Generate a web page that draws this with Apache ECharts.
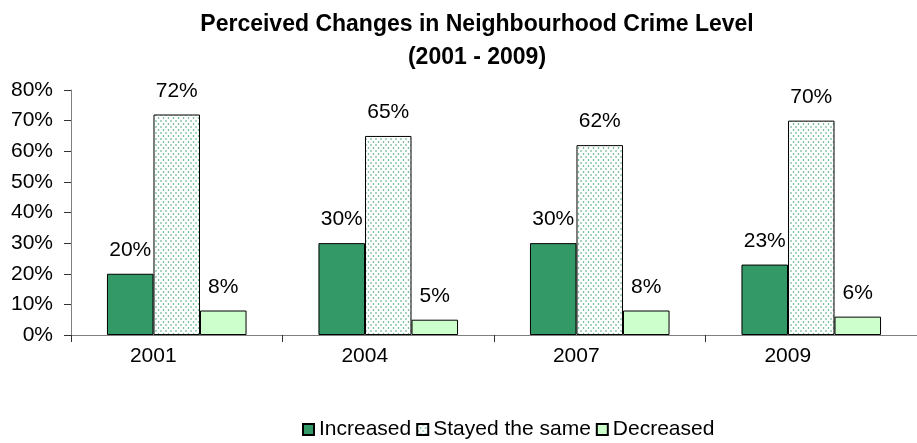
<!DOCTYPE html>
<html>
<head>
<meta charset="utf-8">
<script src="https://cdn.jsdelivr.net/npm/echarts@6/dist/echarts.min.js"></script>
<style>
  html, body { margin: 0; padding: 0; background: #fff; }
  #chart { width: 917px; height: 443px; }
</style>
</head>
<body>
<div id="chart"></div>
<script>
// Survey years and the share of residents in each response group
const years = ['2001', '2004', '2007', '2009'];
const increased = [20, 30, 30, 23];
const stayedSame = [72, 65, 62, 70];
const decreased = [8, 5, 8, 6];
const yTicks = [0, 10, 20, 30, 40, 50, 60, 70, 80];

const FONT = 'Arial, "Liberation Sans", sans-serif';

// Dotted fill used for the "Stayed the same" bars: staggered green dots on white
function dotPattern() {
  const c = document.createElement('canvas');
  c.width = 5; c.height = 6;
  const ctx = c.getContext('2d');
  ctx.fillStyle = '#ffffff';
  ctx.fillRect(0, 0, 5, 6);
  ctx.fillStyle = '#3a9d6a';
  ctx.beginPath();
  ctx.arc(1, 1, 0.8, 0, Math.PI * 2);
  ctx.arc(3.5, 4, 0.8, 0, Math.PI * 2);
  ctx.fill();
  return c;
}

const labelStyle = {
  show: true,
  position: 'top',
  distance: 13,
  fontSize: 21,
  fontFamily: FONT,
  color: '#000',
  formatter: p => p.value + '%'
};

const chart = echarts.init(document.getElementById('chart'), null, { renderer: 'canvas' });
chart.setOption({
  animation: false,
  backgroundColor: '#fff',
  title: {
    text: 'Perceived Changes in Neighbourhood Crime Level\n(2001 - 2009)',
    left: 472,
    textAlign: 'center',
    top: 3,
    textStyle: { fontFamily: FONT, fontSize: 23, fontWeight: 'bold', color: '#000', lineHeight: 33 }
  },
  legend: {
    top: 414,
    left: 297,
    itemWidth: 11,
    itemHeight: 11,
    itemGap: 5,
    icon: 'rect',
    textStyle: { fontFamily: FONT, fontSize: 21, color: '#000' },
    data: ['Increased', 'Stayed the same', 'Decreased']
  },
  // plot area runs a little past the right edge of the canvas
  grid: { left: 71, right: -14, top: 90, bottom: 108 },
  xAxis: {
    type: 'category',
    data: years,
    axisLine: { lineStyle: { color: '#808080', width: 1 } },
    axisTick: { show: true, length: 7, lineStyle: { color: '#333' } },
    axisLabel: { fontFamily: FONT, fontSize: 21, color: '#000', margin: 11, padding: [0, 47, 0, 0] }
  },
  yAxis: {
    type: 'value',
    min: yTicks[0],
    max: yTicks[yTicks.length - 1],
    interval: 10,
    splitLine: { show: false },
    axisLine: { show: true, lineStyle: { color: '#808080', width: 1 } },
    axisTick: { show: true, length: 7, lineStyle: { color: '#333' } },
    axisLabel: { fontFamily: FONT, fontSize: 21, color: '#000', margin: 18, formatter: v => v + '%' }
  },
  series: [
    {
      name: 'Increased',
      type: 'bar',
      data: increased,
      barGap: '0%',
      barCategoryGap: '34%',
      itemStyle: { color: '#339966', borderColor: '#000', borderWidth: 1 },
      label: labelStyle
    },
    {
      name: 'Stayed the same',
      type: 'bar',
      data: stayedSame,
      itemStyle: { color: { image: dotPattern(), repeat: 'repeat' }, borderColor: '#000', borderWidth: 1 },
      label: labelStyle
    },
    {
      name: 'Decreased',
      type: 'bar',
      data: decreased,
      itemStyle: { color: '#ccffcc', borderColor: '#000', borderWidth: 1 },
      label: labelStyle
    }
  ]
});
</script>
</body>
</html>
